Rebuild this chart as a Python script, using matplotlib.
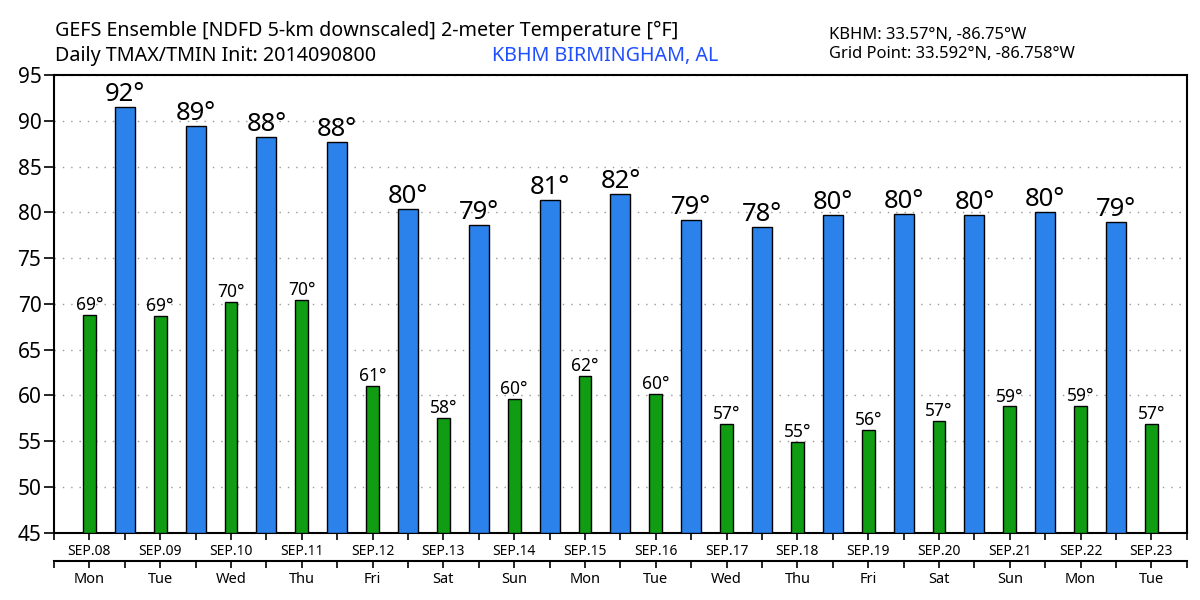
import matplotlib
matplotlib.use("Agg")
import matplotlib.pyplot as plt
import numpy as np

plt.rcParams["font.family"] = ["Noto Sans", "DejaVu Sans"]

# ===== data =====
dates = ["SEP.08", "SEP.09", "SEP.10", "SEP.11", "SEP.12", "SEP.13", "SEP.14", "SEP.15",
         "SEP.16", "SEP.17", "SEP.18", "SEP.19", "SEP.20", "SEP.21", "SEP.22", "SEP.23"]
weekdays = ["Mon", "Tue", "Wed", "Thu", "Fri", "Sat", "Sun", "Mon",
            "Tue", "Wed", "Thu", "Fri", "Sat", "Sun", "Mon", "Tue"]

tmin = [68.8, 68.7, 70.2, 70.4, 61.0, 57.5, 59.6, 62.1,
        60.2, 56.9, 54.9, 56.2, 57.2, 58.8, 58.9, 56.9]
tmin_labels = [69, 69, 70, 70, 61, 58, 60, 62, 60, 57, 55, 56, 57, 59, 59, 57]

tmax = [91.5, 89.4, 88.2, 87.7, 80.4, 78.6, 81.3, 82.0,
        79.2, 78.4, 79.7, 79.8, 79.7, 80.0, 78.9]
tmax_labels = [92, 89, 88, 88, 80, 79, 81, 82, 79, 78, 80, 80, 80, 80, 79]

blue = "#2a82ea"
green = "#109d14"

fig = plt.figure(figsize=(12, 6), dpi=100)
ax = fig.add_axes([0.045, 0.112, 0.944, 0.763])

x_min = np.arange(len(tmin))
x_max = np.arange(len(tmax)) + 0.5

ax.bar(x_max, np.array(tmax) - 45, bottom=45, width=0.28, color=blue,
       edgecolor="black", linewidth=1, zorder=3)
ax.bar(x_min, np.array(tmin) - 45, bottom=45, width=0.18, color=green,
       edgecolor="black", linewidth=1, zorder=3)

for xi, v, lab in zip(x_max, tmax, tmax_labels):
    ax.text(xi, v, f"{lab}°", ha="center", va="bottom", fontsize=18.5, zorder=4)
for xi, v, lab in zip(x_min, tmin, tmin_labels):
    ax.text(xi, v + 0.1, f"{lab}°", ha="center", va="bottom", fontsize=12.5, zorder=4)

ax.set_xlim(-0.5, len(dates) - 0.5)
ax.set_ylim(45, 95)
ax.set_yticks(np.arange(45, 96, 5))
ax.tick_params(axis="y", labelsize=15, length=7, width=1.2, pad=2)
ax.grid(axis="y", linestyle=(0, (1, 5)), color="#999999", linewidth=1, zorder=0)
for s in ax.spines.values():
    s.set_linewidth(1.5)

# date row
ax.set_xticks(np.arange(-0.5, len(dates), 1.0))
ax.set_xticklabels([])
ax.set_xticks(x_min, minor=True)
ax.set_xticklabels(dates, minor=True, fontsize=10)
ax.tick_params(axis="x", which="both", direction="out", length=5, width=1.2)
ax.tick_params(axis="x", which="minor", pad=3)

# weekday row
ax2 = ax.secondary_xaxis(-0.062)
ax2.spines["bottom"].set_linewidth(1.5)
ax2.set_xticks(np.arange(-0.5, len(dates), 1.0))
ax2.set_xticklabels([])
ax2.set_xticks(x_min, minor=True)
ax2.set_xticklabels(weekdays, minor=True, fontsize=10.5)
ax2.tick_params(axis="x", which="both", direction="out", length=5, width=1.2)
ax2.tick_params(axis="x", which="minor", pad=3)

fig.text(0.046, 0.949, "GEFS Ensemble [NDFD 5-km downscaled] 2-meter Temperature [°F]",
         fontsize=14.2, va="center")
fig.text(0.046, 0.907, "Daily TMAX/TMIN Init: 2014090800", fontsize=14.2, va="center")
fig.text(0.41, 0.907, "KBHM BIRMINGHAM, AL", fontsize=14.2, va="center", color="#1f4fff")
fig.text(0.691, 0.941, "KBHM: 33.57°N, -86.75°W", fontsize=11.9, va="center")
fig.text(0.691, 0.91, "Grid Point: 33.592°N, -86.758°W", fontsize=11.9, va="center")

fig.savefig("out.png", dpi=100)
